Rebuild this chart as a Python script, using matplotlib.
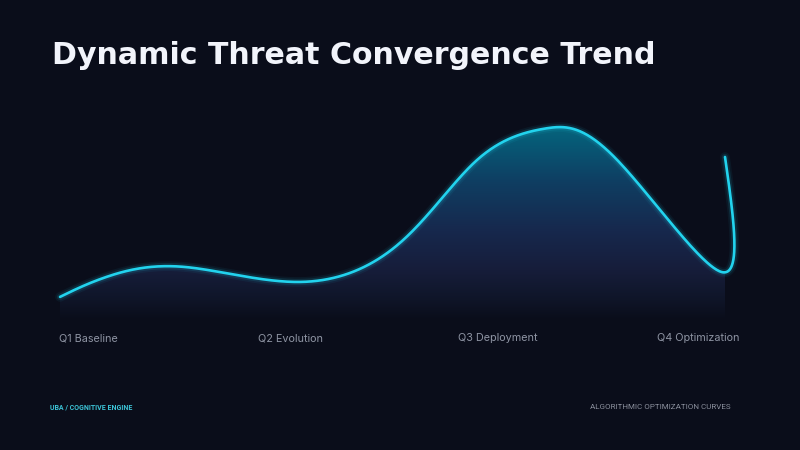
import numpy as np
import matplotlib
matplotlib.use("Agg")
import matplotlib.pyplot as plt
from matplotlib.path import Path
from matplotlib.patches import PathPatch
from matplotlib.colors import LinearSegmentedColormap

# chart data
quarters = ["Q1 Baseline", "Q2 Evolution", "Q3 Deployment", "Q4 Optimization"]
progress = [0, 7.1, 18.8, 36.1, 51.1, 62.7, 72.9, 83.8, 99.5, 100]        # % through the year
threat = [10.5, 19.7, 24.1, 17.3, 35.0, 72.7, 87.0, 72.7, 21.8, 74.1]     # convergence index

BG = "#0a0d1a"
CYAN = "#22d3ee"


def natural(xs, ys, steps=80):
    # natural cubic spline through the points (same idea as d3.curveNatural)
    def ctrl(v):
        v = np.asarray(v, float)
        n = len(v) - 1
        a = np.zeros(n); b = np.zeros(n); r = np.zeros(n)
        a[0], b[0], r[0] = 0, 2, v[0] + 2 * v[1]
        for i in range(1, n - 1):
            a[i], b[i], r[i] = 1, 4, 4 * v[i] + 2 * v[i + 1]
        a[n - 1], b[n - 1], r[n - 1] = 2, 7, 8 * v[n - 1] + v[n]
        for i in range(1, n):
            m = a[i] / b[i - 1]
            b[i] -= m
            r[i] -= m * r[i - 1]
        a[n - 1] = r[n - 1] / b[n - 1]
        for i in range(n - 2, -1, -1):
            a[i] = (r[i] - a[i + 1]) / b[i]
        b[n - 1] = (v[n] + a[n - 1]) / 2
        for i in range(n - 1):
            b[i] = 2 * v[i + 1] - a[i + 1]
        return a, b
    ax_, bx_ = ctrl(xs)
    ay_, by_ = ctrl(ys)
    t = np.linspace(0, 1, steps)
    X, Y = [], []
    for i in range(len(xs) - 1):
        X.append((1 - t) ** 3 * xs[i] + 3 * (1 - t) ** 2 * t * ax_[i] + 3 * (1 - t) * t ** 2 * bx_[i] + t ** 3 * xs[i + 1])
        Y.append((1 - t) ** 3 * ys[i] + 3 * (1 - t) ** 2 * t * ay_[i] + 3 * (1 - t) * t ** 2 * by_[i] + t ** 3 * ys[i + 1])
    return np.concatenate(X), np.concatenate(Y)


fig = plt.figure(figsize=(8, 4.5), dpi=100, facecolor=BG)
ax = fig.add_axes([60 / 800, 130 / 450, 665 / 800, 220 / 450])
ax.set_facecolor(BG)
ax.set_xlim(0, 100)
ax.set_ylim(0, 100)
ax.axis("off")

cx, cy = natural(progress, threat)

# gradient under the curve
verts = np.vstack([np.column_stack([cx, cy]), [cx[-1], 0], [cx[0], 0], [cx[0], cy[0]]])
poly = PathPatch(Path(verts), facecolor="none", edgecolor="none")
ax.add_patch(poly)
grad = LinearSegmentedColormap.from_list("fill", [
    (0.0, BG), (0.1, "#0f1528"), (0.25, "#161d3a"), (0.45, "#17284d"),
    (0.7, "#0f3e62"), (0.9, "#075a76"), (1.0, "#06687f")])
img = ax.imshow(np.linspace(0, 1, 256)[:, None], cmap=grad, origin="lower",
                extent=[0, 101, 0, 90], aspect="auto", zorder=1)
img.set_clip_path(poly)

# glow + line
for lw, a in [(7, 0.06), (4.5, 0.12)]:
    ax.plot(cx, cy, color=CYAN, lw=lw, alpha=a, solid_capstyle="round", clip_on=False, zorder=3)
ax.plot(cx, cy, color=CYAN, lw=1.9, solid_capstyle="round", clip_on=False, zorder=4)

fig.text(52 / 800, 1 - 63.5 / 450, "Dynamic Threat Convergence Trend", color="#f2f4fb",
         fontsize=21.6, fontweight="bold", family="DejaVu Sans", va="baseline")

for i, q in enumerate(quarters):
    fig.text(0.074 + i * 0.249, 1 - 341 / 450, q, color="#8e94a3", fontsize=7.8,
             family="Inter", va="baseline")

fig.text(50 / 800, 1 - 409 / 450, "UBA / COGNITIVE ENGINE", color="#3cc3d6", fontsize=5,
         fontweight="bold", family="Roboto", va="baseline")
fig.text(731 / 800, 1 - 409 / 450, "ALGORITHMIC OPTIMIZATION CURVES", color="#8a8f9c", fontsize=5.8,
         family="Roboto", va="baseline", ha="right")

fig.savefig("out.png", dpi=100, facecolor=BG)
